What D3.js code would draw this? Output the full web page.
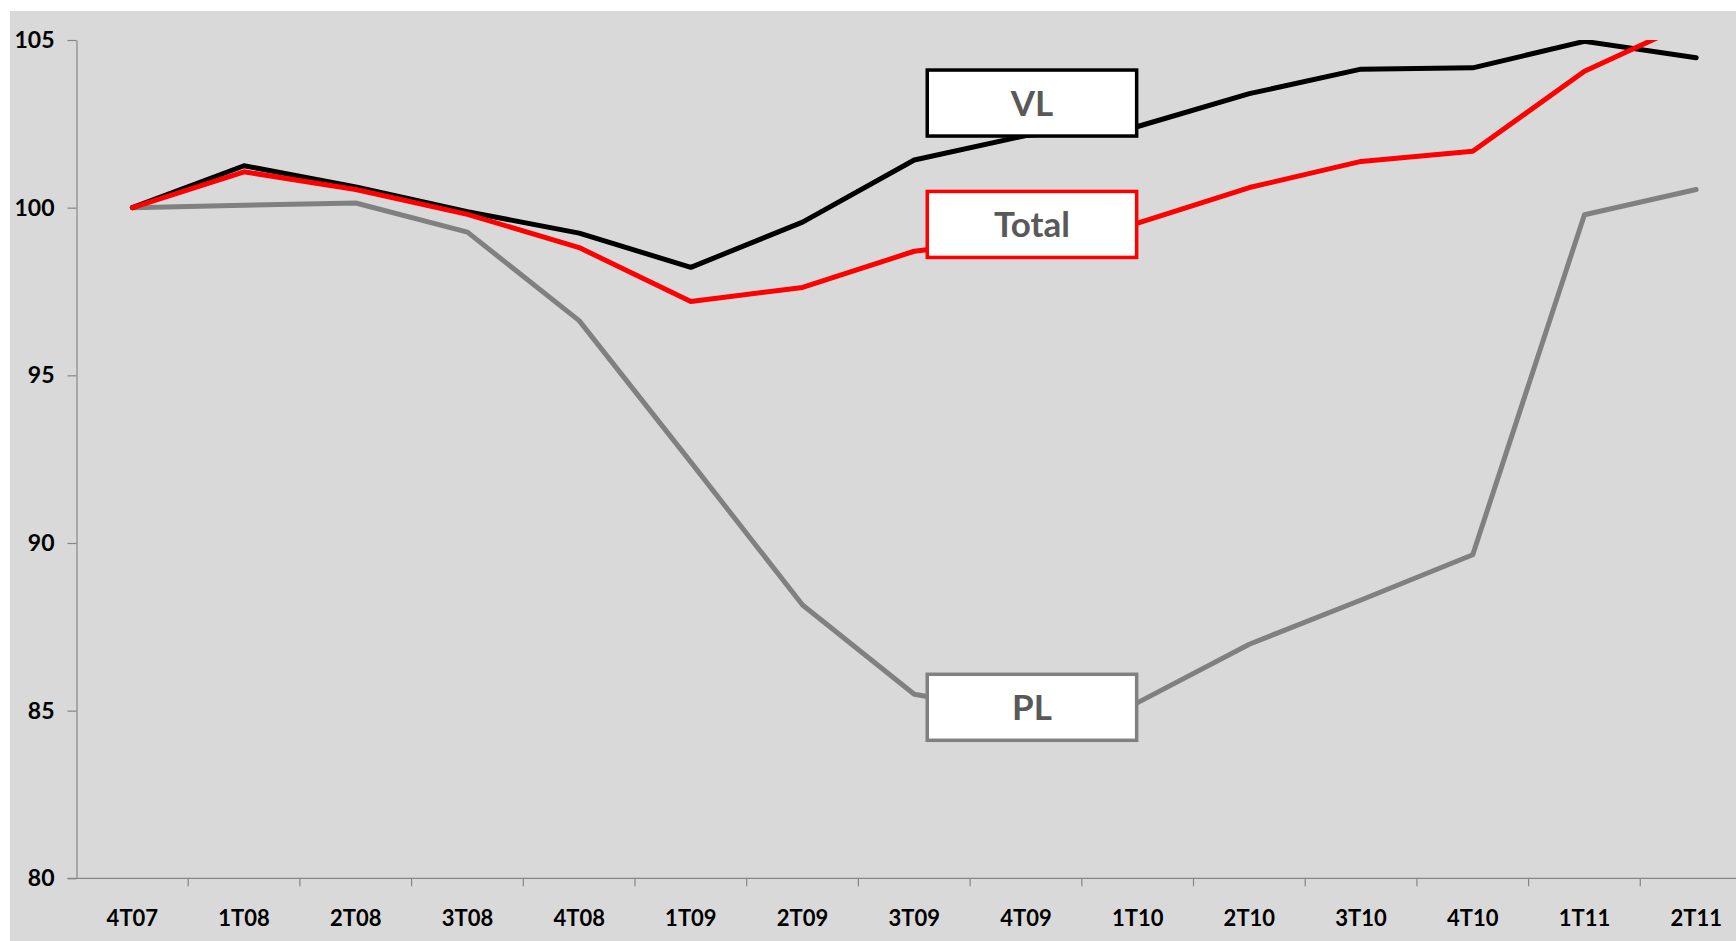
<!DOCTYPE html>
<html>
<head>
<meta charset="utf-8">
<script src="https://cdn.jsdelivr.net/npm/d3@7"></script>
<style>
  body { margin: 0; background: #fff; }
  text { font-family: Lato, "Open Sans", sans-serif; font-weight: 700; }
</style>
</head>
<body>
<div id="chart"></div>
<script>
// quarters on the category axis
var quarters = ['4T07', '1T08', '2T08', '3T08', '4T08', '1T09', '2T09', '3T09',
                '4T09', '1T10', '2T10', '3T10', '4T10', '1T11', '2T11'];
var vl    = [100, 101.25, 100.62, 99.88, 99.24, 98.22, 99.57, 101.42, 102.15, 102.42, 103.4, 104.13, 104.17, 104.96, 104.47];
var total = [100, 101.07, 100.54, 99.8, 98.81, 97.2, 97.62, 98.7, 99.1, 99.54, 100.6, 101.38, 101.68, 104.07, 105.6];
var pl    = [100, 100.07, 100.14, 99.27, 96.63, 92.41, 88.15, 85.49, 84.9, 85.24, 86.98, 88.3, 89.65, 99.79, 100.54];
var yTicks = [80, 85, 90, 95, 100, 105];

var series = [
  {name: 'PL', values: pl, color: '#808080', labelY: 85.1},
  {name: 'VL', values: vl, color: '#000000', labelY: 103.12},
  {name: 'Total', values: total, color: '#ff0000', labelY: 99.5}
];

draw_chart();
function draw_chart(){
    var width = 1736, height = 941;
    var plot = {left: 76.5, right: 1752, top: 40, bottom: 878.3};

    var svg = d3.select('#chart').append('svg')
      .attr('width', width)
      .attr('height', height);

    // grey chart area
    svg.append('rect')
      .attr('x', 10).attr('y', 11)
      .attr('width', width - 10).attr('height', height - 11)
      .attr('fill', '#d9d9d9');

    var x = d3.scaleBand().domain(quarters).range([plot.left, plot.right]);
    var xc = function(d){ return x(d) + x.bandwidth() / 2; };
    var y = d3.scaleLinear().domain([80, 105]).range([plot.bottom, plot.top]);

    // y axis
    var yAxis = svg.append('g')
      .attr('transform', 'translate(' + plot.left + ',0)')
      .call(d3.axisLeft(y).tickValues(yTicks).tickSize(9).tickPadding(13).tickSizeOuter(0));
    yAxis.select('.domain').attr('stroke', '#868686').attr('stroke-width', 1.2);
    yAxis.selectAll('.tick line').attr('stroke', '#868686').attr('stroke-width', 1.2);
    yAxis.selectAll('.tick text').attr('font-size', 23).attr('fill', '#000');

    // x axis: line, ticks between categories, labels centred
    svg.append('line')
      .attr('x1', plot.left - 9).attr('x2', width)
      .attr('y1', plot.bottom).attr('y2', plot.bottom)
      .attr('stroke', '#868686').attr('stroke-width', 1.2);
    svg.selectAll('.xtick')
      .data(quarters.slice(1))
      .enter()
      .append('line')
      .attr('class', 'xtick')
      .attr('x1', function(d){ return x(d); })
      .attr('x2', function(d){ return x(d); })
      .attr('y1', plot.bottom).attr('y2', plot.bottom + 8)
      .attr('stroke', '#868686').attr('stroke-width', 1.2);
    var xAxis = svg.append('g')
      .attr('transform', 'translate(0,' + plot.bottom + ')')
      .call(d3.axisBottom(x).tickSize(0).tickPadding(32));
    xAxis.select('.domain').remove();
    xAxis.selectAll('.tick text').attr('font-size', 22).attr('fill', '#000');

    // lines, clipped to plot area
    svg.append('clipPath').attr('id', 'clip')
      .append('rect')
      .attr('x', plot.left).attr('y', plot.top)
      .attr('width', width - plot.left).attr('height', plot.bottom - plot.top);

    var line = d3.line()
      .x(function(d, i){ return xc(quarters[i]); })
      .y(function(d){ return y(d); });

    svg.append('g').attr('clip-path', 'url(#clip)')
      .selectAll('path')
      .data(series)
      .enter()
      .append('path')
      .attr('d', function(d){ return line(d.values); })
      .attr('fill', 'none')
      .attr('stroke', function(d){ return d.color; })
      .attr('stroke-width', 5)
      .attr('stroke-linejoin', 'round')
      .attr('stroke-linecap', 'round');

    // label boxes over the lines
    var bx0 = xc('3T09') + 13, bx1 = xc('1T10') - 1, bh = 66;
    var box = svg.selectAll('.lbl')
      .data(series)
      .enter()
      .append('g')
      .attr('class', 'lbl');
    box.append('rect')
      .attr('x', bx0)
      .attr('y', function(d){ return y(d.labelY) - bh / 2; })
      .attr('width', bx1 - bx0)
      .attr('height', bh)
      .attr('fill', '#fff')
      .attr('stroke', function(d){ return d.color; })
      .attr('stroke-width', 3.5);
    box.append('text')
      .attr('x', (bx0 + bx1) / 2)
      .attr('y', function(d){ return y(d.labelY) + 13; })
      .attr('text-anchor', 'middle')
      .attr('font-size', 35)
      .attr('fill', '#595959')
      .text(function(d){ return d.name; });
}
</script>
</body>
</html>
